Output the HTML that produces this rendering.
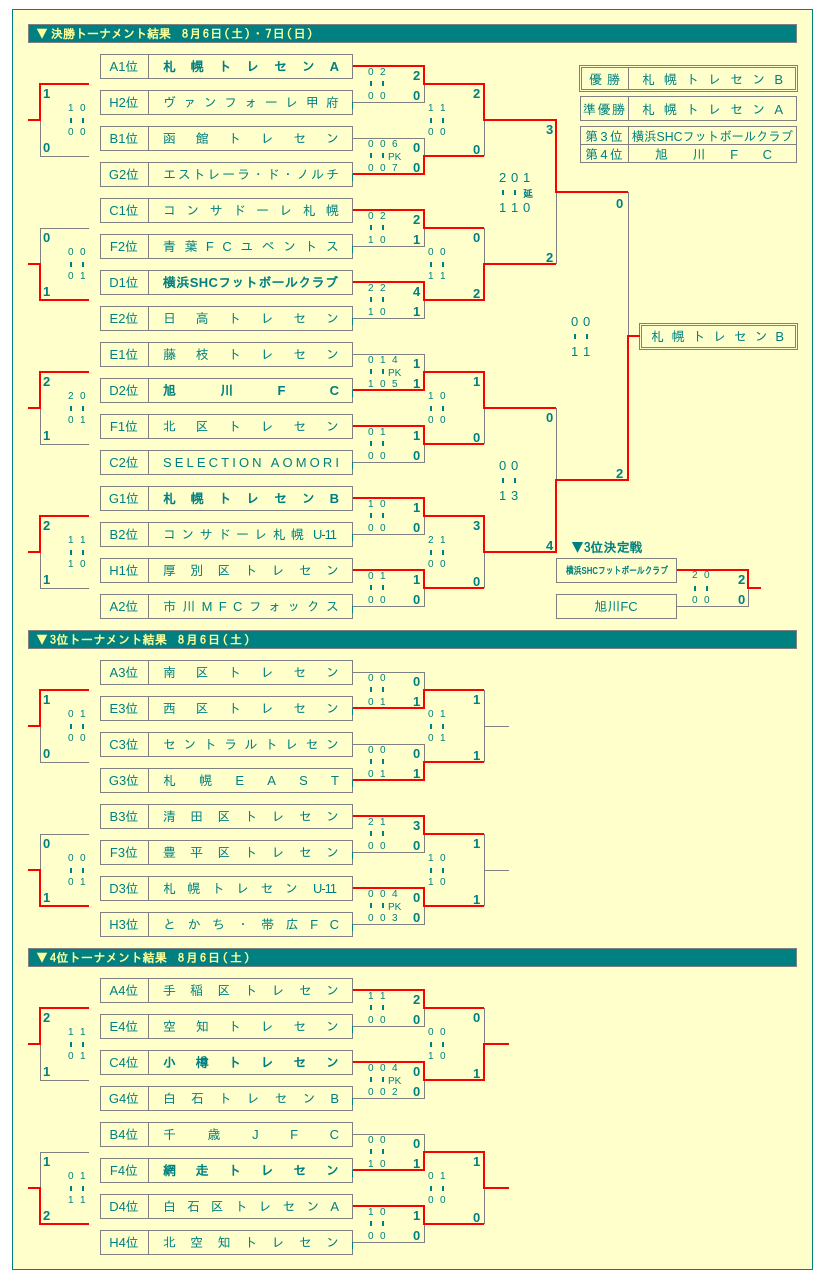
<!DOCTYPE html>
<html lang="ja">
<head>
<meta charset="utf-8">
<title>トーナメント結果</title>
<style>
html,body{margin:0;padding:0;background:#fff}
svg{display:block}
text{font-family:"Liberation Sans","IPAGothic","Noto Sans CJK JP",sans-serif;font-size:13px;fill:#008080}
.b{font-weight:bold}
.l{text-anchor:middle}
.s{font-family:"Liberation Sans","IPAGothic",sans-serif;font-size:10px}
.m{font-family:"Liberation Sans","IPAGothic",sans-serif;font-size:13px}
.v{font-family:"Liberation Sans","IPAGothic",sans-serif;font-size:13px;font-weight:bold}
.h{font-family:"IPAGothic","Liberation Sans",sans-serif;fill:#FFFF99;font-weight:bold;font-size:12px}
.g{font-family:"IPAGothic","Liberation Sans",sans-serif}
</style>
</head>
<body>
<svg xmlns="http://www.w3.org/2000/svg" width="825" height="1276" viewBox="0 0 825 1276">
<defs>
<path id="b" d="M100.5 .5h252v24h-252zM148.5 .5v24" fill="none" stroke="#808080"/>
</defs>
<rect x="12.5" y="9.5" width="800" height="1260" fill="#FFFFCC" stroke="#008080"/>

<!-- headers -->
<g shape-rendering="crispEdges" fill="#008080" stroke="#808080">
<rect x="28.5" y="24.5" width="768" height="18"/>
<rect x="28.5" y="630.5" width="768" height="18"/>
<rect x="28.5" y="948.5" width="768" height="18"/>
</g>
<text class="h" x="36" y="38">▼</text>
<text class="h" x="51" y="38" textLength="120">決勝トーナメント結果</text>
<text class="h" x="182" y="38" textLength="131">8月6日(土)・7日(日)</text>
<text class="h" x="36" y="644">▼</text>
<text class="h" x="50" y="644" textLength="117">3位トーナメント結果</text>
<text class="h" x="178" y="644" textLength="72">8月6日(土)</text>
<text class="h" x="36" y="962">▼</text>
<text class="h" x="50" y="962" textLength="117">4位トーナメント結果</text>
<text class="h" x="178" y="962" textLength="72">8月6日(土)</text>

<!-- team boxes -->
<g shape-rendering="crispEdges">
<use href="#b" y="54"/><use href="#b" y="90"/><use href="#b" y="126"/><use href="#b" y="162"/>
<use href="#b" y="198"/><use href="#b" y="234"/><use href="#b" y="270"/><use href="#b" y="306"/>
<use href="#b" y="342"/><use href="#b" y="378"/><use href="#b" y="414"/><use href="#b" y="450"/>
<use href="#b" y="486"/><use href="#b" y="522"/><use href="#b" y="558"/><use href="#b" y="594"/>
<use href="#b" y="660"/><use href="#b" y="696"/><use href="#b" y="732"/><use href="#b" y="768"/>
<use href="#b" y="804"/><use href="#b" y="840"/><use href="#b" y="876"/><use href="#b" y="912"/>
<use href="#b" y="978"/><use href="#b" y="1014"/><use href="#b" y="1050"/><use href="#b" y="1086"/>
<use href="#b" y="1122"/><use href="#b" y="1158"/><use href="#b" y="1194"/><use href="#b" y="1230"/>
<path fill="none" stroke="#808080" d="M556.5 558.5h120v24h-120zM556.5 594.5h120v24h-120z"/>
<path fill="none" stroke="#808080" d="M579.5 65.5h218v26h-218zM581.5 67.5h214v22h-214zM628.5 67.5v22M580.5 96.5h216v24h-216zM628.5 96.5v24M580.5 126.5h216v36h-216zM580.5 144.5h216M628.5 126.5v36M639.5 323.5h158v26h-158zM641.5 325.5h154v22h-154z"/>
<!-- grey connectors -->
<path fill="none" stroke="#808080" d="M353 102.5H424.5V84M353 138.5H424.5V156M353 246.5H424.5V228M353 318.5H424.5V300M353 354.5H424.5V372M353 462.5H424.5V444M353 534.5H424.5V516M353 606.5H424.5V588M484.5 120V156M484.5 228V264M484.5 408V444M484.5 552V588M556.5 192V264M556.5 408V480M628.5 192V336M89 156.5H40.5V120M89 228.5H40.5V264M89 444.5H40.5V408M89 588.5H40.5V552M89 762.5H40.5V726M89 834.5H40.5V870M89 1080.5H40.5V1044M89 1152.5H40.5V1188M353 672.5H424.5V690M353 744.5H424.5V762M353 852.5H424.5V834M353 924.5H424.5V906M484.5 690V762M509 726.5H484.5M484.5 834V906M509 870.5H484.5M353 1026.5H424.5V1008M353 1098.5H424.5V1080M353 1134.5H424.5V1152M353 1242.5H424.5V1224M484.5 1008V1044M484.5 1188V1224M677 606.5H748.5V588"/>
<!-- teal ticks -->
<path fill="none" stroke="#008080" d="M352.5 102v7M352.5 174v7M352.5 246v7M352.5 318v7M352.5 390v7M352.5 462v7M352.5 534v7M352.5 606v7M352.5 708v7M352.5 780v7M352.5 852v7M352.5 924v7M352.5 1026v7M352.5 1098v7M352.5 1170v7M352.5 1242v7"/>
<!-- red connectors -->
<path fill="none" stroke="#FF0000" stroke-width="2" d="M353 66H424V84H484V120H556V192H628M353 174H424V156H484M353 210H424V228H484M353 282H424V300H484V264H556M353 390H424V372H484V408H556M353 426H424V444H484M353 498H424V516H484V552H556V480H628V336H640M353 570H424V588H484M89 84H40V120H28M89 300H40V264H28M89 372H40V408H28M89 516H40V552H28M89 690H40V726H28M89 906H40V870H28M89 1008H40V1044H28M89 1224H40V1188H28M353 708H424V690H484M353 780H424V762H484M353 816H424V834H484M353 888H424V906H484M353 990H424V1008H484M353 1062H424V1080H484V1044H509M353 1170H424V1152H484V1188H509M353 1206H424V1224H484M677 570H748V588H761"/>
<!-- score marks -->
<path fill="none" stroke="#008080" stroke-width="2" d="M371 81v5m12-5v5M371 153v5m12-5v5M371 225v5m12-5v5M371 297v5m12-5v5M371 369v5m12-5v5M371 441v5m12-5v5M371 513v5m12-5v5M371 585v5m12-5v5M371 687v5m12-5v5M371 759v5m12-5v5M371 831v5m12-5v5M371 903v5m12-5v5M371 1005v5m12-5v5M371 1077v5m12-5v5M371 1149v5m12-5v5M371 1221v5m12-5v5M431 118v5m12-5v5M431 262v5m12-5v5M431 406v5m12-5v5M431 550v5m12-5v5M431 724v5m12-5v5M431 868v5m12-5v5M431 1042v5m12-5v5M431 1186v5m12-5v5M71 118v5m12-5v5M71 262v5m12-5v5M71 406v5m12-5v5M71 550v5m12-5v5M71 724v5m12-5v5M71 868v5m12-5v5M71 1042v5m12-5v5M71 1186v5m12-5v5M503 190v5m12-5v5M503 478v5m12-5v5M575 334v5m12-5v5M695 586v5m12-5v5"/>
</g>

<!-- rank labels -->
<g>
<text class="l" x="124" y="71">A1位</text><text class="l" x="124" y="107">H2位</text><text class="l" x="124" y="143">B1位</text><text class="l" x="124" y="179">G2位</text>
<text class="l" x="124" y="215">C1位</text><text class="l" x="124" y="251">F2位</text><text class="l" x="124" y="287">D1位</text><text class="l" x="124" y="323">E2位</text>
<text class="l" x="124" y="359">E1位</text><text class="l" x="124" y="395">D2位</text><text class="l" x="124" y="431">F1位</text><text class="l" x="124" y="467">C2位</text>
<text class="l" x="124" y="503">G1位</text><text class="l" x="124" y="539">B2位</text><text class="l" x="124" y="575">H1位</text><text class="l" x="124" y="611">A2位</text>
<text class="l" x="124" y="677">A3位</text><text class="l" x="124" y="713">E3位</text><text class="l" x="124" y="749">C3位</text><text class="l" x="124" y="785">G3位</text>
<text class="l" x="124" y="821">B3位</text><text class="l" x="124" y="857">F3位</text><text class="l" x="124" y="893">D3位</text><text class="l" x="124" y="929">H3位</text>
<text class="l" x="124" y="995">A4位</text><text class="l" x="124" y="1031">E4位</text><text class="l" x="124" y="1067">C4位</text><text class="l" x="124" y="1103">G4位</text>
<text class="l" x="124" y="1139">B4位</text><text class="l" x="124" y="1175">F4位</text><text class="l" x="124" y="1211">D4位</text><text class="l" x="124" y="1247">H4位</text>
</g>

<!-- team names -->
<text class="b" x="163" y="71" textLength="176">札幌トレセンA</text>
<text x="163" y="107" textLength="176">ヴァンフォーレ甲府</text>
<text x="163" y="143" textLength="176">函館トレセン</text>
<text x="163" y="179" textLength="176">エストレーラ・ド・ノルチ</text>
<text x="163" y="215" textLength="176">コンサドーレ札幌</text>
<text x="163" y="251" textLength="176">青葉FCユベントス</text>
<text class="b" x="163" y="287" textLength="175">横浜SHCフットボールクラブ</text>
<text x="163" y="323" textLength="176">日高トレセン</text>
<text x="163" y="359" textLength="176">藤枝トレセン</text>
<text class="b" x="163" y="395" textLength="176">旭川FC</text>
<text x="163" y="431" textLength="176">北区トレセン</text>
<text x="163" y="467" textLength="176">SELECTION AOMORI</text>
<text class="b" x="163" y="503" textLength="176">札幌トレセンB</text>
<text x="163" y="539" textLength="141">コンサドーレ札幌</text><text x="313" y="539" textLength="24">U-11</text>
<text x="163" y="575" textLength="176">厚別区トレセン</text>
<text x="163" y="611" textLength="176">市川MFCフォックス</text>
<text x="163" y="677" textLength="176">南区トレセン</text>
<text x="163" y="713" textLength="176">西区トレセン</text>
<text x="163" y="749" textLength="176">セントラルトレセン</text>
<text x="163" y="785" textLength="176">札幌EAST</text>
<text x="163" y="821" textLength="176">清田区トレセン</text>
<text x="163" y="857" textLength="176">豊平区トレセン</text>
<text x="163" y="893" textLength="135">札幌トレセン</text><text x="313" y="893" textLength="24">U-11</text>
<text x="163" y="929" textLength="176">とかち・帯広FC</text>
<text x="163" y="995" textLength="176">手稲区トレセン</text>
<text x="163" y="1031" textLength="176">空知トレセン</text>
<text class="b" x="163" y="1067" textLength="176">小樽トレセン</text>
<text x="163" y="1103" textLength="176">白石トレセンB</text>
<text x="163" y="1139" textLength="176">千歳JFC</text>
<text class="b" x="163" y="1175" textLength="176">網走トレセン</text>
<text x="163" y="1211" textLength="176">白石区トレセンA</text>
<text x="163" y="1247" textLength="176">北空知トレセン</text>

<!-- left bracket scores -->
<text class="v" x="43" y="98">1</text><text class="v" x="43" y="152">0</text><text class="s" x="68 80" y="111">10</text><text class="s" x="68 80" y="135">00</text>
<text class="v" x="43" y="242">0</text><text class="v" x="43" y="296">1</text><text class="s" x="68 80" y="255">00</text><text class="s" x="68 80" y="279">01</text>
<text class="v" x="43" y="386">2</text><text class="v" x="43" y="440">1</text><text class="s" x="68 80" y="399">20</text><text class="s" x="68 80" y="423">01</text>
<text class="v" x="43" y="530">2</text><text class="v" x="43" y="584">1</text><text class="s" x="68 80" y="543">11</text><text class="s" x="68 80" y="567">10</text>
<text class="v" x="43" y="704">1</text><text class="v" x="43" y="758">0</text><text class="s" x="68 80" y="717">01</text><text class="s" x="68 80" y="741">00</text>
<text class="v" x="43" y="848">0</text><text class="v" x="43" y="902">1</text><text class="s" x="68 80" y="861">00</text><text class="s" x="68 80" y="885">01</text>
<text class="v" x="43" y="1022">2</text><text class="v" x="43" y="1076">1</text><text class="s" x="68 80" y="1035">11</text><text class="s" x="68 80" y="1059">01</text>
<text class="v" x="43" y="1166">1</text><text class="v" x="43" y="1220">2</text><text class="s" x="68 80" y="1179">01</text><text class="s" x="68 80" y="1203">11</text>

<!-- round 1 scores -->
<text class="s" x="368 380" y="75">02</text><text class="s" x="368 380" y="99">00</text><text class="v" x="413" y="80">2</text><text class="v" x="413" y="100">0</text>
<text class="s" x="368 380 392" y="147">006</text><text class="s" x="368 380 392" y="171">007</text><text class="s" x="388" y="160">PK</text><text class="v" x="413" y="152">0</text><text class="v" x="413" y="172">0</text>
<text class="s" x="368 380" y="219">02</text><text class="s" x="368 380" y="243">10</text><text class="v" x="413" y="224">2</text><text class="v" x="413" y="244">1</text>
<text class="s" x="368 380" y="291">22</text><text class="s" x="368 380" y="315">10</text><text class="v" x="413" y="296">4</text><text class="v" x="413" y="316">1</text>
<text class="s" x="368 380 392" y="363">014</text><text class="s" x="368 380 392" y="387">105</text><text class="s" x="388" y="376">PK</text><text class="v" x="413" y="368">1</text><text class="v" x="413" y="388">1</text>
<text class="s" x="368 380" y="435">01</text><text class="s" x="368 380" y="459">00</text><text class="v" x="413" y="440">1</text><text class="v" x="413" y="460">0</text>
<text class="s" x="368 380" y="507">10</text><text class="s" x="368 380" y="531">00</text><text class="v" x="413" y="512">1</text><text class="v" x="413" y="532">0</text>
<text class="s" x="368 380" y="579">01</text><text class="s" x="368 380" y="603">00</text><text class="v" x="413" y="584">1</text><text class="v" x="413" y="604">0</text>
<text class="s" x="368 380" y="681">00</text><text class="s" x="368 380" y="705">01</text><text class="v" x="413" y="686">0</text><text class="v" x="413" y="706">1</text>
<text class="s" x="368 380" y="753">00</text><text class="s" x="368 380" y="777">01</text><text class="v" x="413" y="758">0</text><text class="v" x="413" y="778">1</text>
<text class="s" x="368 380" y="825">21</text><text class="s" x="368 380" y="849">00</text><text class="v" x="413" y="830">3</text><text class="v" x="413" y="850">0</text>
<text class="s" x="368 380 392" y="897">004</text><text class="s" x="368 380 392" y="921">003</text><text class="s" x="388" y="910">PK</text><text class="v" x="413" y="902">0</text><text class="v" x="413" y="922">0</text>
<text class="s" x="368 380" y="999">11</text><text class="s" x="368 380" y="1023">00</text><text class="v" x="413" y="1004">2</text><text class="v" x="413" y="1024">0</text>
<text class="s" x="368 380 392" y="1071">004</text><text class="s" x="368 380 392" y="1095">002</text><text class="s" x="388" y="1084">PK</text><text class="v" x="413" y="1076">0</text><text class="v" x="413" y="1096">0</text>
<text class="s" x="368 380" y="1143">00</text><text class="s" x="368 380" y="1167">10</text><text class="v" x="413" y="1148">0</text><text class="v" x="413" y="1168">1</text>
<text class="s" x="368 380" y="1215">10</text><text class="s" x="368 380" y="1239">00</text><text class="v" x="413" y="1220">1</text><text class="v" x="413" y="1240">0</text>

<!-- round 2 scores -->
<text class="s" x="428 440" y="111">11</text><text class="s" x="428 440" y="135">00</text><text class="v" x="473" y="98">2</text><text class="v" x="473" y="154">0</text>
<text class="s" x="428 440" y="255">00</text><text class="s" x="428 440" y="279">11</text><text class="v" x="473" y="242">0</text><text class="v" x="473" y="298">2</text>
<text class="s" x="428 440" y="399">10</text><text class="s" x="428 440" y="423">00</text><text class="v" x="473" y="386">1</text><text class="v" x="473" y="442">0</text>
<text class="s" x="428 440" y="543">21</text><text class="s" x="428 440" y="567">00</text><text class="v" x="473" y="530">3</text><text class="v" x="473" y="586">0</text>
<text class="s" x="428 440" y="717">01</text><text class="s" x="428 440" y="741">01</text><text class="v" x="473" y="704">1</text><text class="v" x="473" y="760">1</text>
<text class="s" x="428 440" y="861">10</text><text class="s" x="428 440" y="885">10</text><text class="v" x="473" y="848">1</text><text class="v" x="473" y="904">1</text>
<text class="s" x="428 440" y="1035">00</text><text class="s" x="428 440" y="1059">10</text><text class="v" x="473" y="1022">0</text><text class="v" x="473" y="1078">1</text>
<text class="s" x="428 440" y="1179">01</text><text class="s" x="428 440" y="1203">00</text><text class="v" x="473" y="1166">1</text><text class="v" x="473" y="1222">0</text>

<!-- round 3 and final -->
<text class="m" x="499 511 523" y="182">201</text><text class="m" x="499 511 523" y="212">110</text>
<text class="b" x="523" y="197" style="font-size:10px">延</text>
<text class="v" x="546" y="134">3</text><text class="v" x="546" y="262">2</text>
<text class="m" x="499 511" y="470">00</text><text class="m" x="499 511" y="500">13</text>
<text class="v" x="546" y="422">0</text><text class="v" x="546" y="550">4</text>
<text class="m" x="571 583" y="326">00</text><text class="m" x="571 583" y="356">11</text>
<text class="v" x="616" y="208">0</text><text class="v" x="616" y="478">2</text>

<!-- third place match -->
<text class="b g" x="571" y="552">▼3位決定戦</text>
<text class="b" x="566" y="574" textLength="102" lengthAdjust="spacingAndGlyphs" style="font-size:10px">横浜SHCフットボールクラブ</text>
<text class="l" x="616" y="611">旭川FC</text>
<text class="s" x="692 704" y="578">20</text><text class="s" x="692 704" y="603">00</text>
<text class="v" x="738" y="584">2</text><text class="v" x="738" y="604">0</text>

<!-- results -->
<text x="589" y="84" textLength="31">優勝</text>
<text x="642" y="84" textLength="141">札幌トレセンB</text>
<text x="583" y="114" textLength="42">準優勝</text>
<text x="642" y="114" textLength="141">札幌トレセンA</text>
<text x="585" y="141" textLength="38">第3位</text>
<text x="632" y="141" textLength="161" lengthAdjust="spacingAndGlyphs">横浜SHCフットボールクラブ</text>
<text x="585" y="159" textLength="38">第4位</text>
<text x="655" y="159" textLength="117">旭川FC</text>
<text x="651" y="341" textLength="133">札幌トレセンB</text>
</svg>
</body>
</html>
